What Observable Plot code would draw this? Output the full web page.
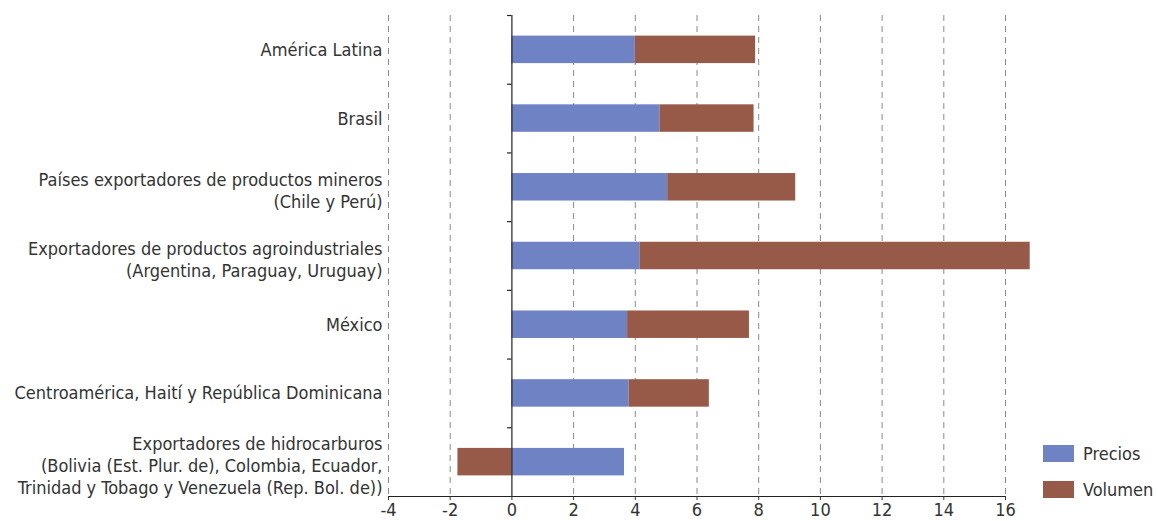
<!DOCTYPE html>
<html lang="es">
<head>
<meta charset="utf-8">
<script src="https://cdn.jsdelivr.net/npm/d3@7"></script>
<script src="https://cdn.jsdelivr.net/npm/@observablehq/plot@0.6"></script>
<style>
  html, body { margin: 0; padding: 0; background: #fff; }
  #chart { position: relative; width: 1158px; height: 521px; }
  #chart svg { display: block; }
  .legend { position: absolute; left: 1043px; top: 445px; font-family: "Liberation Sans Narrow", "DejaVu Sans Condensed", "Liberation Sans", sans-serif; font-size: 18px; color: #333; }
  .legend .item { display: flex; align-items: center; height: 17px; margin-bottom: 19px; }
  .legend .sw { width: 31px; height: 17px; margin-right: 9px; }
</style>
</head>
<body>
<div id="chart"></div>
<script>
// Categorías (de arriba hacia abajo)
const categorias = [
  "América Latina",
  "Brasil",
  "Países exportadores de productos mineros\n(Chile y Perú)",
  "Exportadores de productos agroindustriales\n(Argentina, Paraguay, Uruguay)",
  "México",
  "Centroamérica, Haití y República Dominicana",
  "Exportadores de hidrocarburos\n(Bolivia (Est. Plur. de), Colombia, Ecuador,\nTrinidad y Tobago y Venezuela (Rep. Bol. de))"
];
// Contribución de precios y volumen (puntos porcentuales)
const precios = [4.0, 4.8, 5.05, 4.15, 3.75, 3.8, 3.65];
const volumen = [3.9, 3.05, 4.15, 12.65, 3.95, 2.6, -1.75];
const series = ["Precios", "Volumen"];
const colores = ["#6f82c4", "#985a48"];
const xTicks = [-4, -2, 0, 2, 4, 6, 8, 10, 12, 14, 16];

const fuente = '"Liberation Sans Narrow", "DejaVu Sans Condensed", "Liberation Sans", sans-serif';

// Barras apiladas: el volumen negativo parte de cero hacia la izquierda
const filas = [];
categorias.forEach((c, i) => {
  filas.push({i, serie: series[0], x1: 0, x2: precios[i]});
  const v = volumen[i];
  if (v >= 0) filas.push({i, serie: series[1], x1: precios[i], x2: precios[i] + v});
  else filas.push({i, serie: series[1], x1: 0, x2: v});
});
const indices = d3.range(categorias.length);
const simples = indices.filter(i => !categorias[i].includes("\n"));
const multiples = indices.filter(i => categorias[i].includes("\n"));
const limites = d3.range(categorias.length).map(i => i - 0.5);

const etiqueta = {
  y: d => d,
  text: d => categorias[d],
  frameAnchor: "left",
  textAnchor: "end",
  dx: -6,
  fontSize: 18,
  lineHeight: 1.22,
  fill: "#333"
};

const chart = Plot.plot({
  width: 1158,
  height: 521,
  marginLeft: 388,
  marginRight: 153,
  marginTop: 15,
  marginBottom: 25,
  style: {fontFamily: fuente, color: "#333", background: "#fff"},
  x: {domain: [-4, 16]},
  y: {type: "linear", domain: [-0.5, categorias.length - 0.5], reverse: true, axis: null},
  color: {domain: series, range: colores},
  marks: [
    Plot.ruleX(xTicks.filter(t => t !== 0), {stroke: "#8a8a8a", strokeWidth: 1, strokeDasharray: "6,5"}),
    Plot.rectX(filas, {
      x1: "x1", x2: "x2",
      y1: d => d.i - 0.2, y2: d => d.i + 0.2,
      fill: "serie"
    }),
    Plot.ruleX([0], {stroke: "#222", strokeWidth: 1.2}),
    Plot.ruleY(limites, {x1: -0.14, x2: 0, stroke: "#222", strokeWidth: 1.2}),
    Plot.ruleY([categorias.length - 0.5], {stroke: "#222", strokeWidth: 1.2}),
    Plot.text(simples, {...etiqueta, dy: -1}),
    Plot.text(multiples, {...etiqueta, dy: 3}),
    Plot.axisX({ticks: xTicks, tickSize: 4, tickPadding: 3, fontSize: 18, label: null, tickFormat: d => String(d)})
  ]
});

const cont = document.getElementById("chart");
cont.appendChild(chart);

// Leyenda
const leyenda = document.createElement("div");
leyenda.className = "legend";
series.forEach((s, k) => {
  const it = document.createElement("div");
  it.className = "item";
  const sw = document.createElement("span");
  sw.className = "sw";
  sw.style.background = colores[k];
  const tx = document.createElement("span");
  tx.textContent = s;
  it.appendChild(sw);
  it.appendChild(tx);
  leyenda.appendChild(it);
});
cont.appendChild(leyenda);
</script>
</body>
</html>
